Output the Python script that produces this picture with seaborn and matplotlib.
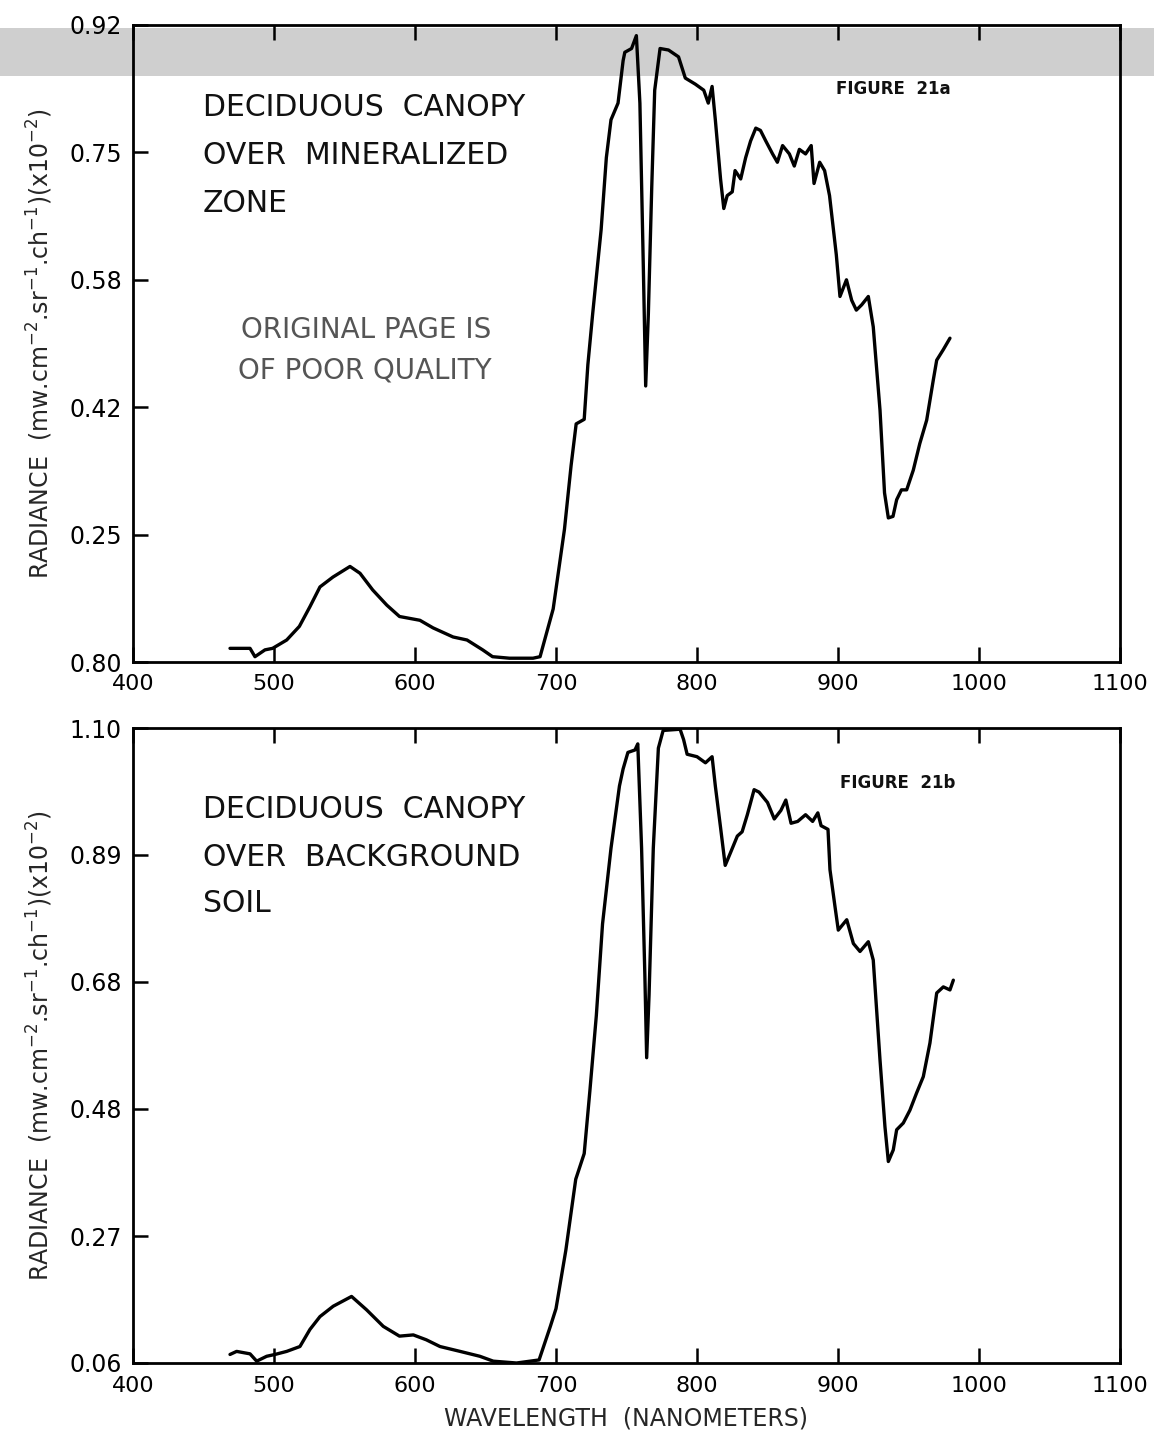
import numpy as np
import pandas as pd
import matplotlib
matplotlib.use("Agg")
import matplotlib.pyplot as plt
from matplotlib.patches import Rectangle
import seaborn as sns

# ---------------- data ----------------
wl_a = [468.8, 483, 486.5, 493.6, 499, 509, 518, 525.5, 532.6, 541.8, 553.9, 561, 570, 580, 589,
        603.5, 612.8, 627, 636.9, 648, 655, 667, 683.7, 688.7, 698, 706, 710.7, 714.3, 720, 722.6,
        726, 732, 735.7, 739, 744, 747.6, 748.8, 753.6, 757, 759.5, 762, 763.6, 765.5, 767.9, 770,
        773.8, 779.8, 786.9, 791.7, 798.8, 804.8, 808, 810.7, 813, 816.7, 819, 821.4, 825, 827, 831,
        834.5, 838, 841.7, 845, 848.8, 853.6, 857, 860.7, 865.5, 869, 872.6, 877, 881, 883, 887,
        890.5, 894, 898.8, 901.4, 906, 909.7, 913, 916.8, 921.5, 925, 929.8, 933, 935.7, 939, 941.6,
        945, 948.7, 953.4, 958, 962.9, 967.6, 970, 974.7, 979.4]
rad_a = [0.098, 0.098, 0.087, 0.096, 0.098, 0.109, 0.127, 0.153, 0.179, 0.192, 0.206, 0.197, 0.175,
         0.155, 0.140, 0.135, 0.125, 0.113, 0.109, 0.096, 0.087, 0.085, 0.085, 0.087, 0.150, 0.255,
         0.339, 0.394, 0.400, 0.472, 0.539, 0.650, 0.745, 0.795, 0.817, 0.873, 0.884, 0.889, 0.906,
         0.817, 0.595, 0.444, 0.539, 0.706, 0.834, 0.889, 0.887, 0.878, 0.850, 0.842, 0.834, 0.817,
         0.839, 0.795, 0.717, 0.678, 0.695, 0.700, 0.728, 0.717, 0.745, 0.767, 0.784, 0.781, 0.767,
         0.750, 0.739, 0.761, 0.750, 0.734, 0.756, 0.750, 0.761, 0.711, 0.739, 0.728, 0.695, 0.617,
         0.562, 0.584, 0.557, 0.544, 0.551, 0.562, 0.522, 0.412, 0.303, 0.270, 0.272, 0.294, 0.307,
         0.307, 0.333, 0.368, 0.399, 0.452, 0.478, 0.492, 0.507]

wl_b = [468.8, 473.5, 483, 487.7, 494.8, 500.7, 509, 518.4, 525.5, 532.6, 542, 555, 565.7, 577.5,
        589, 598.8, 608, 617.7, 632, 646, 655.5, 672, 688, 696, 700, 707, 714, 720, 724, 728.6, 733,
        739, 745, 747.6, 751, 756, 758, 760.7, 763, 764.3, 766, 769, 772.6, 776, 788, 790.5, 793, 800,
        806, 810.7, 813, 816.7, 820, 823.8, 828.6, 832, 835.7, 840.5, 844, 850, 854.8, 859.5, 863,
        866.7, 871.4, 877, 882, 885.7, 888, 892.9, 894.3, 897.9, 900.2, 906.2, 910.9, 915.6, 921.5,
        925, 929.8, 933.3, 935.7, 939.2, 941.6, 946.3, 951, 955.7, 960.5, 965.2, 970, 974.7, 979.4,
        981.8]
rad_b = [0.074, 0.079, 0.075, 0.063, 0.071, 0.074, 0.079, 0.087, 0.115, 0.136, 0.153, 0.169, 0.147,
         0.120, 0.104, 0.106, 0.098, 0.087, 0.079, 0.071, 0.063, 0.060, 0.065, 0.120, 0.149, 0.245,
         0.361, 0.403, 0.505, 0.629, 0.779, 0.903, 1.005, 1.033, 1.060, 1.064, 1.074, 0.903, 0.697,
         0.560, 0.663, 0.903, 1.067, 1.096, 1.098, 1.081, 1.057, 1.053, 1.043, 1.053, 1.005, 0.937,
         0.875, 0.896, 0.923, 0.930, 0.958, 0.999, 0.995, 0.978, 0.951, 0.965, 0.982, 0.944, 0.947,
         0.958, 0.947, 0.961, 0.940, 0.934, 0.868, 0.807, 0.769, 0.786, 0.747, 0.734, 0.750, 0.720,
         0.556, 0.447, 0.390, 0.409, 0.442, 0.453, 0.474, 0.502, 0.529, 0.584, 0.666, 0.676, 0.671,
         0.687]

x_ticks = [400, 500, 600, 700, 800, 900, 1000, 1100]
x_tick_labels = ["400", "500", "600", "700", "800", "900", "1000", "1100"]
ylim_a = (0.08, 0.92)
y_labels_a = ["0.80", "0.25", "0.42", "0.58", "0.75", "0.92"]
ylim_b = (0.06, 1.10)
y_labels_b = ["0.06", "0.27", "0.48", "0.68", "0.89", "1.10"]

title_a = ["DECIDUOUS  CANOPY", "OVER  MINERALIZED", "ZONE"]
title_b = ["DECIDUOUS  CANOPY", "OVER  BACKGROUND", "SOIL"]
fig_label_a = "FIGURE  21a"
fig_label_b = "FIGURE  21b"
ylabel = r"RADIANCE  (mw.cm$^{-2}$.sr$^{-1}$.ch$^{-1}$)(x10$^{-2}$)"
xlabel = "WAVELENGTH  (NANOMETERS)"

# ---------------- style ----------------
sns.set_style("ticks")
plt.rcParams["font.family"] = ["DejaVu Sans"]

W, H = 1154, 1430
fig = plt.figure(figsize=(W / 100, H / 100), dpi=100)
fig.patch.set_facecolor("white")

# scan artefact band at the top
fig.patches.append(Rectangle((0, 1 - 76 / H), 1, 48 / H, transform=fig.transFigure,
                             facecolor="#c4c4c4", edgecolor="none", alpha=0.8, zorder=0))

ax_a = fig.add_axes([133 / W, 1 - 662 / H, 987 / W, 637 / H])
ax_b = fig.add_axes([133 / W, 1 - 1363 / H, 987 / W, 635 / H])

df_a = pd.DataFrame({"wl": wl_a, "rad": rad_a})
df_b = pd.DataFrame({"wl": wl_b, "rad": rad_b})

for ax, df, ylim, ylabs in [(ax_a, df_a, ylim_a, y_labels_a), (ax_b, df_b, ylim_b, y_labels_b)]:
    ax.set_zorder(2)
    ax.set_facecolor("none")
    sns.lineplot(data=df, x="wl", y="rad", ax=ax, color="black", linewidth=2.4, sort=False,
                 estimator=None)
    ax.set_xlim(400, 1100)
    ax.set_ylim(*ylim)
    ax.set_xticks(x_ticks)
    ax.set_xticklabels(x_tick_labels, fontsize=16)
    yt = np.linspace(ylim[0], ylim[1], len(ylabs))
    ax.set_yticks(yt)
    ax.set_yticklabels(ylabs, fontsize=17)
    ax.tick_params(axis="both", direction="in", length=11, width=1.8, top=True, right=False,
                   colors="black")
    ax.tick_params(axis="x", pad=9)
    ax.tick_params(axis="y", pad=8)
    for s in ax.spines.values():
        s.set_linewidth(2.0)
        s.set_color("black")
    ax.set_xlabel("")
    ax.set_ylabel(ylabel, fontsize=17, labelpad=10)

ax_b.set_xlabel(xlabel, fontsize=17, labelpad=8)

# annotations
def ftext(px, py, s, **kw):
    fig.text(px / W, 1 - py / H, s, va="center", zorder=5, **kw)

for i, line in enumerate(title_a):
    ftext(203, 107 + 48 * i, line, fontsize=21.5, color="#111111")
for i, line in enumerate(title_b):
    ftext(203, 810 + 47 * i, line, fontsize=21.5, color="#111111")

ftext(241, 330, "ORIGINAL PAGE IS", fontsize=20, color="#555555")
ftext(238, 370, "OF POOR QUALITY", fontsize=20, color="#555555")

ftext(836, 89, fig_label_a, fontsize=12, fontweight="bold", color="#111111")
ftext(840, 783, fig_label_b, fontsize=12, fontweight="bold", color="#111111")

fig.savefig("out.png", dpi=100)
